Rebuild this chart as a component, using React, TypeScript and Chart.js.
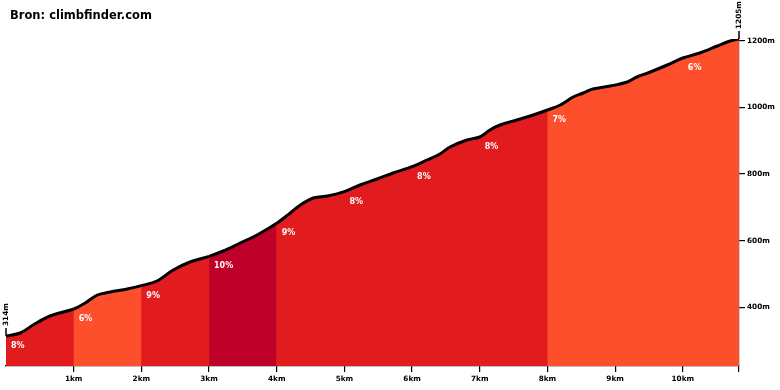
import React, { useEffect, useRef } from "react";
import { Chart, registerables } from "chart.js";

Chart.register(...registerables);

const title = "Bron: climbfinder.com";

const distanceKm = [
  0, 0.21, 0.4, 0.65, 1.0, 1.17, 1.35, 1.54, 1.79, 2.0, 2.23, 2.47, 2.72, 3.0,
  3.21, 3.46, 3.71, 4.0, 4.2, 4.35, 4.54, 4.75, 5.0, 5.23, 5.48, 5.72, 6.0,
  6.22, 6.41, 6.56, 6.81, 7.0, 7.15, 7.3, 7.55, 7.79, 8.0, 8.19, 8.38, 8.53,
  8.67, 8.93, 9.18, 9.32, 9.52, 9.77, 10.0, 10.25, 10.51, 10.7, 10.83,
];

const elevationM = [
  314, 323, 347, 374, 395, 413, 437, 446, 455, 465, 479, 512, 536, 553, 569,
  593, 617, 652, 683, 707, 728, 734, 747, 767, 785, 803, 822, 842, 860, 881,
  902, 911, 932, 947, 962, 977, 992, 1007, 1031, 1043, 1055, 1064, 1076, 1091,
  1106, 1127, 1148, 1163, 1184, 1199, 1205,
];

// gradient (%) of each kilometre segment
const segmentGradients = [8, 6, 9, 10, 9, 8, 8, 8, 7, 7, 6];

const xTickKm = [1, 2, 3, 4, 5, 6, 7, 8, 9, 10];
const yTickM = [400, 600, 800, 1000, 1200];

const startLabel = "314m";
const endLabel = "1205m";

const FONT = "'DejaVu Sans', Verdana, sans-serif";

function gradientColor(g: number): string {
  if (g >= 10) return "#bf0029";
  if (g >= 8) return "#e21b1f";
  return "#fd4f2c";
}

export default function App() {
  const ref = useRef<HTMLCanvasElement | null>(null);

  useEffect(() => {
    document.body.style.margin = "0";
    const canvas = ref.current;
    if (!canvas) return;
    const xMax = distanceKm[distanceKm.length - 1];
    const points = distanceKm.map((d, i) => ({ x: d, y: elevationM[i] }));

    const overlay = {
      id: "overlay",
      afterDatasetsDraw(chart: any) {
        const { ctx, scales } = chart;
        const xs = scales.x;
        const ys = scales.y;
        ctx.save();
        // gradient labels
        ctx.fillStyle = "#fff";
        ctx.font = `bold 8px ${FONT}`;
        ctx.textAlign = "left";
        ctx.textBaseline = "middle";
        segmentGradients.forEach((g, i) => {
          const idx = distanceKm.findIndex((d) => Math.abs(d - i) < 1e-6);
          if (idx < 0) return;
          const px = xs.getPixelForValue(i);
          const py = ys.getPixelForValue(elevationM[idx]);
          ctx.fillText(`${g}%`, px + 5, py + 10);
        });
        // start / end markers
        ctx.strokeStyle = "#000";
        ctx.fillStyle = "#000";
        ctx.lineWidth = 1.5;
        ctx.font = `bold 7.3px ${FONT}`;
        const markers = [
          { km: distanceKm[0], el: elevationM[0], text: startLabel },
          { km: xMax, el: elevationM[elevationM.length - 1], text: endLabel },
        ];
        markers.forEach((m) => {
          const px = xs.getPixelForValue(m.km);
          const py = ys.getPixelForValue(m.el);
          ctx.beginPath();
          ctx.moveTo(px, py);
          ctx.lineTo(px, py - 8);
          ctx.stroke();
          ctx.save();
          ctx.translate(px, py - 10);
          ctx.rotate(-Math.PI / 2);
          ctx.textAlign = "left";
          ctx.textBaseline = "middle";
          ctx.fillText(m.text, 0, 0);
          ctx.restore();
        });
        // title
        ctx.font = `bold 11.5px ${FONT}`;
        ctx.textAlign = "left";
        ctx.textBaseline = "alphabetic";
        ctx.fillStyle = "#000";
        ctx.fillText(title, 10, 19);
        ctx.restore();
      },
    };

    const chart = new Chart(canvas, {
      type: "line",
      data: {
        datasets: [
          {
            data: points,
            borderColor: "#000",
            borderWidth: 3,
            pointRadius: 0,
            tension: 0.35,
            fill: "start",
            order: 1,
            backgroundColor: gradientColor(segmentGradients[0]),
            segment: {
              backgroundColor: (c: any) => {
                const k = Math.floor(c.p0.parsed.x + 1e-6);
                return gradientColor(segmentGradients[Math.min(k, segmentGradients.length - 1)]);
              },
            },
          },
          {
            // solid underlay that hides anti-aliasing seams between coloured segments
            data: points,
            borderWidth: 0,
            borderColor: "rgba(0,0,0,0)",
            pointRadius: 0,
            tension: 0.35,
            fill: "start",
            order: 2,
            backgroundColor: "#e8301f",
          },
        ],
      },
      options: {
        animation: false,
        responsive: false,
        devicePixelRatio: 1,
        layout: { padding: { left: 6, top: 39, right: 0, bottom: 0 } },
        plugins: {
          legend: { display: false },
          tooltip: { enabled: false },
        },
        scales: {
          x: {
            type: "linear",
            min: 0,
            max: xMax,
            afterBuildTicks: (s: any) => {
              s.ticks = [...xTickKm, xMax].map((v) => ({ value: v }));
            },
            afterFit: (s: any) => {
              s.height = 24;
            },
            ticks: {
              autoSkip: false,
              maxRotation: 0,
              padding: 3,
              color: "#000",
              font: { family: FONT, size: 7.3, weight: "bold" },
              callback: (v: any) => (xTickKm.includes(v) ? `${v}km` : ""),
            },
            grid: {
              drawOnChartArea: false,
              drawTicks: true,
              tickLength: 6,
              color: "#000",
              lineWidth: 1.2,
            },
            border: { display: true, color: "#000", width: 1.2 },
          },
          y: {
            type: "linear",
            position: "right",
            min: 224,
            max: 1205,
            afterBuildTicks: (s: any) => {
              s.ticks = yTickM.map((v) => ({ value: v }));
            },
            afterFit: (s: any) => {
              s.width = 41;
            },
            ticks: {
              padding: 2,
              color: "#000",
              font: { family: FONT, size: 7.3, weight: "bold" },
              callback: (v: any) => `${v}m`,
            },
            grid: {
              drawOnChartArea: false,
              drawTicks: true,
              tickLength: 6,
              color: "#000",
              lineWidth: 1.2,
            },
            border: { display: true, color: "#000", width: 1.2 },
          },
        },
      },
      plugins: [overlay],
    } as any);

    return () => chart.destroy();
  }, []);

  return <canvas ref={ref} width={780} height={390} style={{ display: "block" }} />;
}
